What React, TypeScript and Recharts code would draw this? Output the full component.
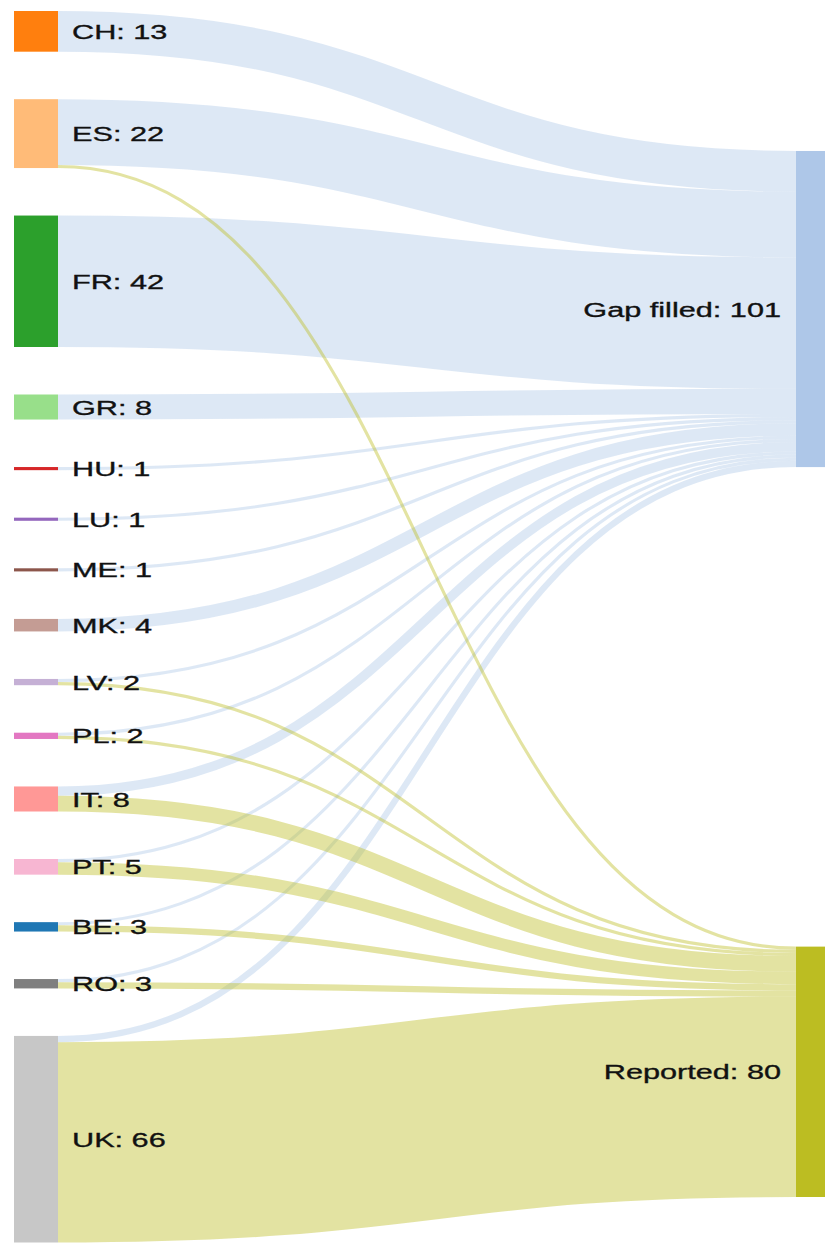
import React from 'react';
import { Sankey } from 'recharts';

const CHART_W = 825;
const CHART_H = 1244;

// Left-hand countries (order as shown, top to bottom)
const countries = ['CH', 'ES', 'FR', 'GR', 'HU', 'LU', 'ME', 'MK', 'LV', 'PL', 'IT', 'PT', 'BE', 'RO', 'UK'];
const countryColors = ['#ff7f0e', '#ffbb78', '#2ca02c', '#98df8a', '#d62728', '#9467bd', '#8c564b', '#c49c94', '#c5b0d5', '#e377c2', '#ff9896', '#f7b6d2', '#1f77b4', '#7f7f7f', '#c7c7c7'];

// Right-hand categories
const categories = ['Gap filled', 'Reported'];
const categoryColors = ['#aec7e8', '#bcbd22'];

// Link values per country
const gapFilledValues = [13, 21, 42, 8, 1, 1, 1, 4, 1, 1, 3, 1, 1, 1, 2];
const reportedValues = [0, 1, 0, 0, 0, 0, 0, 0, 1, 1, 5, 4, 2, 2, 64];

const nodes = [
  ...countries.map((name, i) => ({ name, color: countryColors[i] })),
  ...categories.map((name, i) => ({ name, color: categoryColors[i] })),
];

const gapIdx = countries.length;
const repIdx = countries.length + 1;

const links = [
  ...gapFilledValues
    .map((v, i) => ({ source: i, target: gapIdx, value: v }))
    .filter((l) => l.value > 0),
  ...reportedValues
    .map((v, i) => ({ source: i, target: repIdx, value: v }))
    .filter((l) => l.value > 0),
];

const FONT = '"Liberation Sans", Arial, Helvetica, sans-serif';
const FONT_SIZE = 21;
const STRETCH = 1.46;

const CustomNode = (props: any) => {
  const { x, y, width, height, payload } = props;
  const isLeft = payload.depth === 0;
  const w = Math.max(0, Math.min(width, CHART_W - x));
  const ty = y + height / 2 + FONT_SIZE * 0.358;
  const tx = isLeft ? x + width + 14 : x - 15;
  return (
    <g>
      <rect x={x} y={y} width={w} height={height} fill={payload.color} />
      <text
        transform={`translate(${tx},${ty}) scale(${STRETCH},1)`}
        textAnchor={isLeft ? 'start' : 'end'}
        fontFamily={FONT}
        fontSize={FONT_SIZE}
        fill="#111"
        stroke="#111"
        strokeWidth={0.35}
      >
        {`${payload.name}: ${payload.value}`}
      </text>
    </g>
  );
};

const CustomLink = (props: any) => {
  const { sourceX, sourceY, targetX, targetY, sourceControlX, targetControlX, linkWidth, payload } = props;
  const targetName = payload && payload.target ? payload.target.name : '';
  const color = targetName === 'Reported' ? '#bcbd22' : '#aec7e8';
  return (
    <path
      d={`M${sourceX},${sourceY}C${sourceControlX},${sourceY} ${targetControlX},${targetY} ${targetX},${targetY}`}
      fill="none"
      stroke={color}
      strokeOpacity={0.42}
      strokeWidth={linkWidth}
    />
  );
};

export default function App() {
  return (
    <div style={{ position: 'absolute', left: 0, top: 0, width: CHART_W, height: CHART_H, background: '#fff' }}>
      <Sankey
        width={CHART_W}
        height={CHART_H}
        data={{ nodes, links }}
        node={<CustomNode />}
        link={<CustomLink />}
        nodeWidth={44}
        nodePadding={47.5}
        iterations={32}
        sort={false}
        linkCurvature={0.5}
        margin={{ top: 11, left: 14, right: -15, bottom: 1.5 }}
      />
    </div>
  );
}
